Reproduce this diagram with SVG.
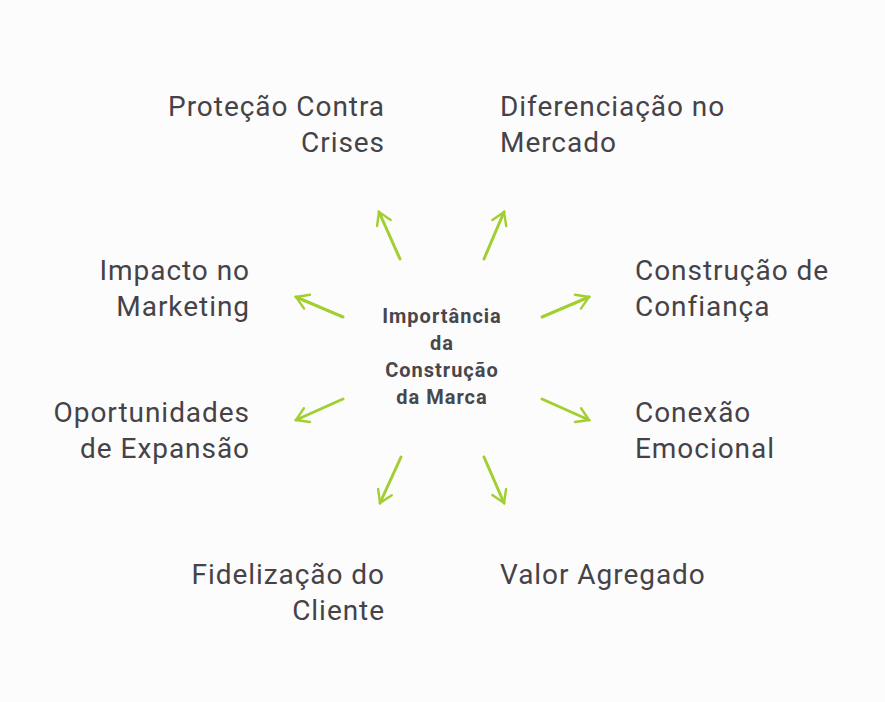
<svg xmlns="http://www.w3.org/2000/svg" width="885" height="702" viewBox="0 0 885 702">
<style>
.t{font-family:Roboto,"Liberation Sans",sans-serif;font-size:28px;letter-spacing:0.95px;fill:#454348}
.r{text-anchor:end}
.c{font-family:Roboto,"Liberation Sans",sans-serif;font-size:20px;letter-spacing:1px;font-weight:bold;fill:#48474b;text-anchor:middle}
.a{stroke:#a2cf30;stroke-width:3;fill:none;stroke-linecap:round;marker-end:url(#m)}
</style>
<defs><marker id="m" viewBox="0 0 12 12" refX="10" refY="6" markerWidth="6" markerHeight="6" orient="auto" markerUnits="strokeWidth"><path d="M2 1L10 6L2 11" fill="none" stroke="#a2cf30" stroke-width="1.6" stroke-linecap="round"/></marker></defs>
<rect width="885" height="702" fill="#fdfcfc"/>
<g id="connectors">
<line class="a" x1="400" y1="259" x2="379" y2="212"/>
<line class="a" x1="484" y1="259" x2="504" y2="212"/>
<line class="a" x1="343" y1="317" x2="296" y2="297"/>
<line class="a" x1="542" y1="317" x2="589" y2="297"/>
<line class="a" x1="343" y1="399" x2="296" y2="420"/>
<line class="a" x1="542" y1="399" x2="589" y2="420"/>
<line class="a" x1="401" y1="457" x2="380" y2="503"/>
<line class="a" x1="484" y1="457" x2="504" y2="503"/>
</g>
<g id="center"><text class="c"><tspan x="442" y="323">Importância</tspan><tspan x="442" y="350">da</tspan><tspan x="442" y="377">Construção</tspan><tspan x="442" y="404">da Marca</tspan></text></g>
<g id="n1"><text class="t r"><tspan x="385" y="116">Proteção Contra</tspan><tspan x="385" y="152">Crises</tspan></text></g>
<g id="n2"><text class="t"><tspan x="500" y="116">Diferenciação no</tspan><tspan x="500" y="152">Mercado</tspan></text></g>
<g id="n3"><text class="t r"><tspan x="250" y="280">Impacto no</tspan><tspan x="250" y="316">Marketing</tspan></text></g>
<g id="n4"><text class="t"><tspan x="635" y="280">Construção de</tspan><tspan x="635" y="316">Confiança</tspan></text></g>
<g id="n5"><text class="t r"><tspan x="250" y="422">Oportunidades</tspan><tspan x="250" y="458">de Expansão</tspan></text></g>
<g id="n6"><text class="t"><tspan x="635" y="422">Conexão</tspan><tspan x="635" y="458">Emocional</tspan></text></g>
<g id="n7"><text class="t r"><tspan x="385" y="584">Fidelização do</tspan><tspan x="385" y="620">Cliente</tspan></text></g>
<g id="n8"><text class="t"><tspan x="500" y="584">Valor Agregado</tspan></text></g>
</svg>
